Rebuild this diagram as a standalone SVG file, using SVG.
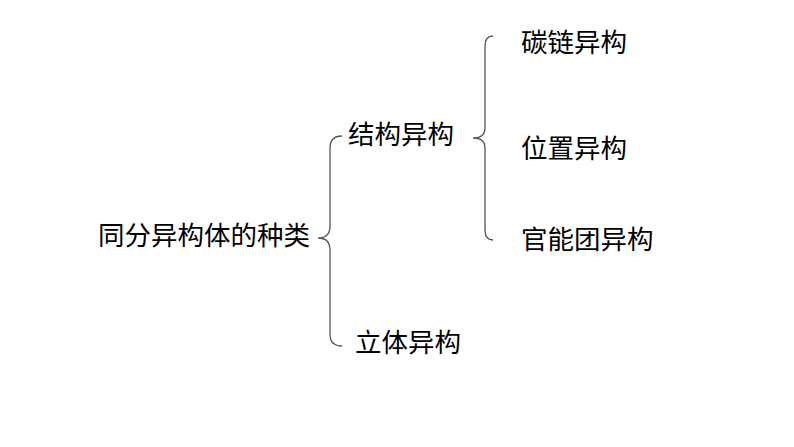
<svg xmlns="http://www.w3.org/2000/svg" width="794" height="447" viewBox="0 0 794 447">
<style>
text{font-family:"Noto Sans CJK SC","Noto Sans CJK JP",sans-serif;font-size:26.5px;fill:#000}
.br{fill:none;stroke:#555;stroke-width:1.3}
</style>
<rect width="794" height="447" fill="#fff"/>
<g id="connectors">
<path class="br" d="M342,136 Q330,136 330,148 L330,226 Q330,238 318,238 Q330,238 330,250 L330,334 Q330,346 342,346"/>
<path class="br" d="M493,36 Q485,36 485,46 L485,128 Q485,138 473,138 Q485,138 485,148 L485,230 Q485,240 493,240"/>
</g>
<g id="root"><text x="98" y="245">同分异构体的种类</text></g>
<g id="n1"><text x="348" y="144">结构异构</text></g>
<g id="n2"><text x="355" y="352">立体异构</text></g>
<g id="n3"><text x="521" y="52">碳链异构</text></g>
<g id="n4"><text x="521" y="158">位置异构</text></g>
<g id="n5"><text x="521" y="249">官能团异构</text></g>
</svg>
